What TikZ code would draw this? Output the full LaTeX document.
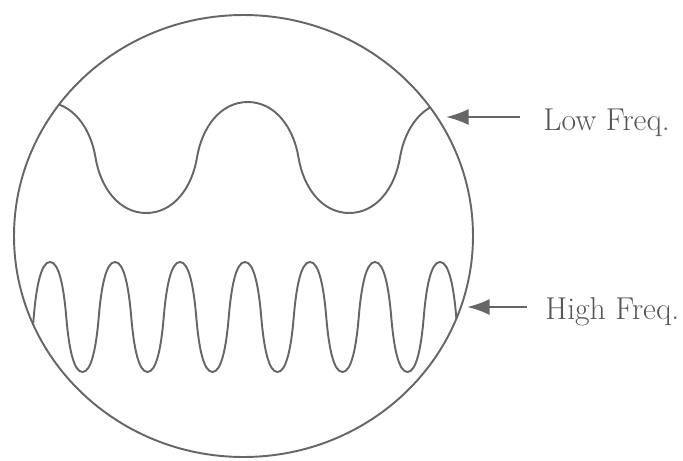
\documentclass[tikz,border=0pt]{standalone}
\usepackage{tikz}
\usetikzlibrary{positioning,arrows.meta}
\definecolor{cgray}{HTML}{666666}
\tikzset{
  wave/.style={draw=cgray, line width=1.1pt},
  sig/.style={-{Latex[length=4.5mm,width=3.2mm]}, line width=1.3pt, draw=cgray},
  lbl/.style={anchor=base west, text=cgray!85!black, inner sep=0pt, font=\fontsize{18}{21}\selectfont},
}

\begin{document}
\begin{tikzpicture}[x=0.02cm, y=-0.02cm]
  \useasboundingbox (0,0) rectangle (683,460);
  % waves, cut off by the lens
  \begin{scope}
    \clip (243.5,236) ellipse [x radius=229.5, y radius=221];
    % low: half width 50.75, crest 102, trough 213
    \draw[wave] (-107.5,157.5) \foreach \k [evaluate=\k as \xa using -107.5+203*\k] in {0,1,2} {
      .. controls ({\xa+5},188) and ({\xa+23.75},213) .. ({\xa+50.75},213)
      .. controls ({\xa+77.75},213) and ({\xa+96.5},188) .. ({\xa+101.5},157.5)
      .. controls ({\xa+106.5},127) and ({\xa+125.25},102) .. ({\xa+152.25},102)
      .. controls ({\xa+179.25},102) and ({\xa+198},127) .. ({\xa+203},157.5)
    };
    % high: half width 16.25, crest 262, trough 372
    \draw[wave] (1.25,317) \foreach \k [evaluate=\k as \xa using 1.25+65*\k] in {0,...,7} {
      .. controls ({\xa+2.5},347) and ({\xa+7.25},372) .. ({\xa+16.25},372)
      .. controls ({\xa+25.25},372) and ({\xa+30},347) .. ({\xa+32.5},317)
      .. controls ({\xa+35},287) and ({\xa+39.75},262) .. ({\xa+48.75},262)
      .. controls ({\xa+57.75},262) and ({\xa+62.5},287) .. ({\xa+65},317)
    };
  \end{scope}
  \draw[wave] (243.5,236) ellipse [x radius=229.5, y radius=221];
  % labels
  \node[lbl] (low) at (543,130) {Low Freq.};
  \node[lbl] (high) at (545,319) {High Freq.};
  \coordinate (lowtip) at (446,117); \coordinate (lowtail) at (520,117);
  \coordinate (hightip) at (467,307); \coordinate (hightail) at (527,307);
  \draw[sig] (lowtail) -- (lowtip);
  \draw[sig] (hightail) -- (hightip);
\end{tikzpicture}
\end{document}
